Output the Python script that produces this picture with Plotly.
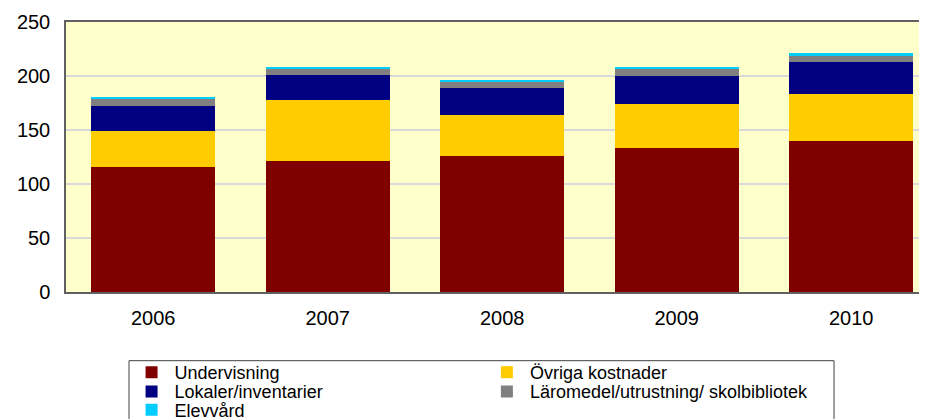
import plotly.graph_objects as go

years = ["2006", "2007", "2008", "2009", "2010"]
series_names = ["Undervisning", "Övriga kostnader", "Lokaler/inventarier",
                "Läromedel/utrustning/ skolbibliotek", "Elevvård"]
undervisning = [116.0, 121.0, 126.2, 133.3, 140.1]
ovriga = [33.4, 56.8, 38.0, 41.1, 42.9]
lokaler = [22.8, 23.1, 24.7, 25.9, 30.0]
laromedel = [6.8, 5.6, 5.9, 6.2, 5.8]
elevvard = [0.9, 1.5, 0.6, 1.2, 2.5]
colors = ["#800000", "#FFCC00", "#000080", "#808080", "#00CCFF"]
y_ticks = [0, 50, 100, 150, 200, 250]

values = [undervisning, ovriga, lokaler, laromedel, elevvard]
legend_ids = ["legend", "legend2", "legend3", "legend4", "legend5"]
# legend grid placement (paper coords): column x, row y
legend_x = [0.072, 0.4809, 0.072, 0.4809, 0.072]
legend_y = [-0.2981, -0.2981, -0.3693, -0.3693, -0.4370]

fig = go.Figure()
for name, vals, col, lg in zip(series_names, values, colors, legend_ids):
    fig.add_trace(go.Bar(x=years, y=vals, name=name, legend=lg,
                         marker=dict(color=col, line=dict(width=0))))

font_family = "Liberation Sans, Arial, sans-serif"
legend_layouts = {}
for lg, lx, ly in zip(legend_ids, legend_x, legend_y):
    legend_layouts[lg] = dict(orientation="v", x=lx, xanchor="left", y=ly, yanchor="middle",
                              bgcolor="rgba(0,0,0,0)", borderwidth=0,
                              font=dict(size=18, family=font_family),
                              itemwidth=36,
                              itemclick=False, itemdoubleclick=False)

fig.update_layout(
    width=927, height=419,
    barmode="stack", bargap=0.289,
    margin=dict(l=58, r=0, t=14, b=135, autoexpand=False),
    paper_bgcolor="white", plot_bgcolor="#FFFFCC",
    font=dict(family=font_family, size=20, color="black"),
    showlegend=True,
    xaxis=dict(type="category", range=[-0.5, 4.48], showgrid=False, automargin=False,
               showline=True, linecolor="#606060", linewidth=1.5, mirror=True,
               ticks="", ticklabelstandoff=7, tickfont=dict(size=20)),
    yaxis=dict(range=[0, 250], tickvals=y_ticks, showgrid=True, automargin=False,
               gridcolor="#D9D9D9", gridwidth=1.5, zeroline=False,
               showline=True, linecolor="#606060", linewidth=1.5,
               ticks="", ticklabelstandoff=10, tickfont=dict(size=20)),
    shapes=[dict(type="rect", xref="paper", yref="paper",
                 x0=0.0725, x1=0.8838, y0=-0.2544, y1=-0.6,
                 line=dict(color="#404040", width=1), fillcolor="rgba(0,0,0,0)",
                 layer="below")],
    **legend_layouts,
)

fig.write_html("out.html")
